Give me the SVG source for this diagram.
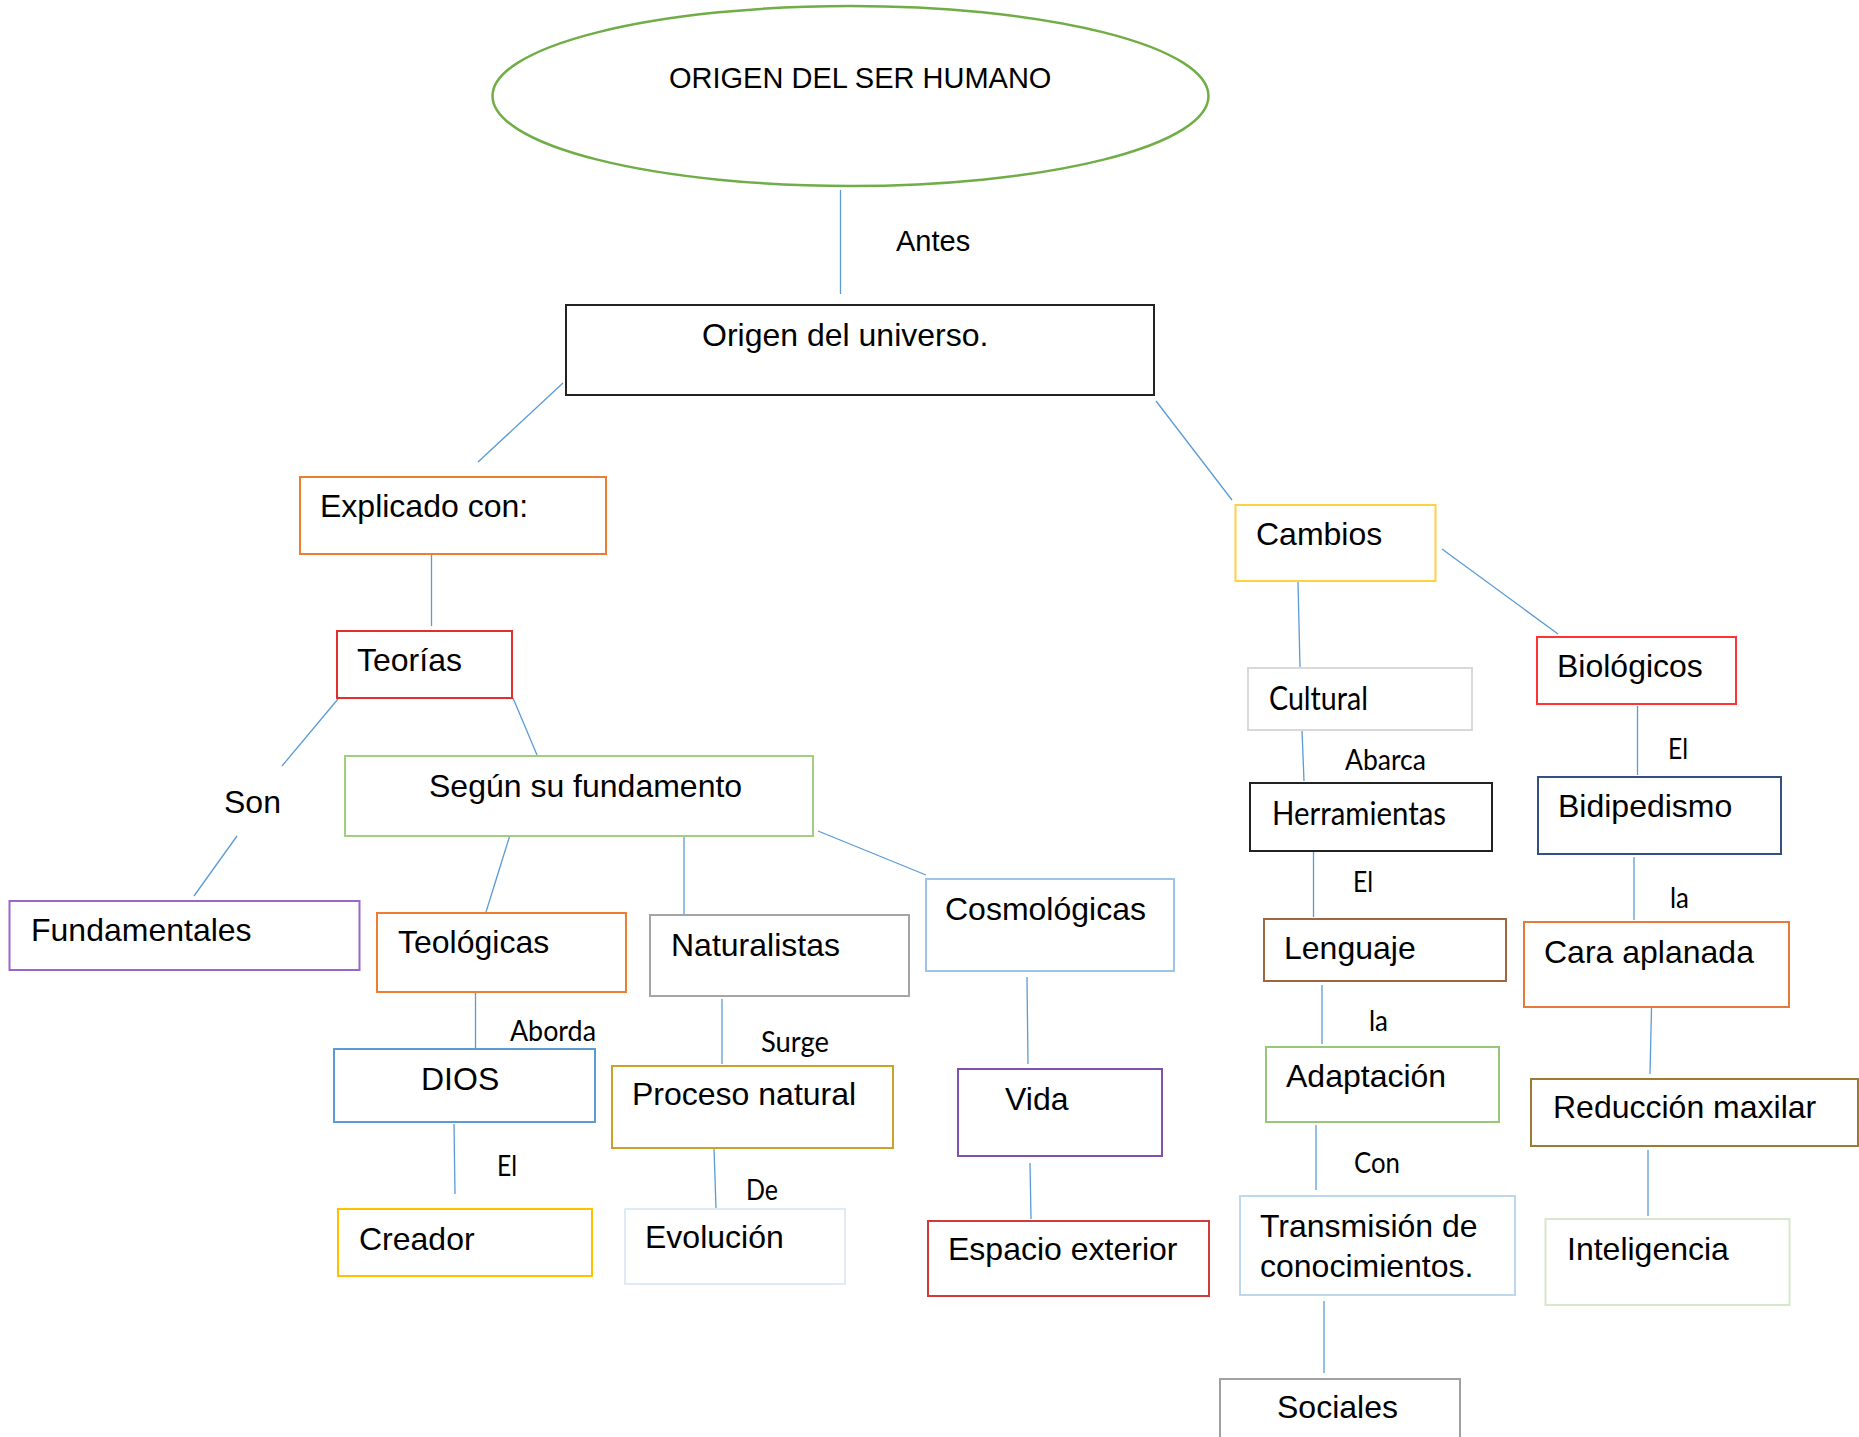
<svg xmlns="http://www.w3.org/2000/svg" width="1859" height="1437" viewBox="0 0 1859 1437">
<style>
.n{fill:#ffffff;stroke-width:2}
.t{font-family:"Liberation Sans",Arial,sans-serif;font-size:32px;fill:#000}
.c{font-family:Lato,"Open Sans",sans-serif;font-size:29px;fill:#000}
.cl{font-family:Lato,"Open Sans",sans-serif;font-size:32px;fill:#000}
#connectors line{stroke:#5B9BD5;stroke-width:1.3}
</style>
<rect width="1859" height="1437" fill="#ffffff"/>
<g id="connectors">
<line x1="840.5" y1="190" x2="840.5" y2="294"/>
<line x1="563" y1="383" x2="478" y2="462"/>
<line x1="1156" y1="401" x2="1232" y2="500"/>
<line x1="431.5" y1="554" x2="431.5" y2="626"/>
<line x1="338" y1="699" x2="282" y2="766"/>
<line x1="237" y1="836" x2="194" y2="896"/>
<line x1="513" y1="698" x2="537" y2="755"/>
<line x1="510" y1="835" x2="486" y2="912"/>
<line x1="684" y1="837" x2="684" y2="914"/>
<line x1="818" y1="831" x2="926" y2="875"/>
<line x1="475.5" y1="993" x2="475.5" y2="1048"/>
<line x1="454" y1="1124" x2="455" y2="1194"/>
<line x1="722" y1="999" x2="722" y2="1064"/>
<line x1="714" y1="1148" x2="716" y2="1208"/>
<line x1="1027" y1="977" x2="1028" y2="1064"/>
<line x1="1030" y1="1163" x2="1031" y2="1219"/>
<line x1="1298" y1="582" x2="1300" y2="667"/>
<line x1="1442" y1="549" x2="1558" y2="634"/>
<line x1="1302" y1="730" x2="1304" y2="781"/>
<line x1="1313.5" y1="848" x2="1313.5" y2="917"/>
<line x1="1322" y1="985" x2="1322" y2="1044"/>
<line x1="1316" y1="1125" x2="1316" y2="1190"/>
<line x1="1324" y1="1301" x2="1324" y2="1373"/>
<line x1="1637.5" y1="706" x2="1637.5" y2="775"/>
<line x1="1634" y1="857" x2="1634" y2="920"/>
<line x1="1651.5" y1="1008" x2="1650" y2="1074"/>
<line x1="1648" y1="1150" x2="1648" y2="1216"/>
</g>
<g id="labels">
<text class="t" x="896" y="251" style="font-size:29px">Antes</text>
<text class="t" x="224" y="813">Son</text>
<text class="c" x="510" y="1041" textLength="86" lengthAdjust="spacingAndGlyphs">Aborda</text>
<text class="c" x="497" y="1176" textLength="20" lengthAdjust="spacingAndGlyphs">El</text>
<text class="c" x="761" y="1052" textLength="68" lengthAdjust="spacingAndGlyphs">Surge</text>
<text class="c" x="746" y="1200" textLength="32" lengthAdjust="spacingAndGlyphs">De</text>
<text class="c" x="1345" y="770" textLength="81" lengthAdjust="spacingAndGlyphs">Abarca</text>
<text class="c" x="1353" y="892" textLength="20" lengthAdjust="spacingAndGlyphs">El</text>
<text class="c" x="1369" y="1031" textLength="19" lengthAdjust="spacingAndGlyphs">la</text>
<text class="c" x="1354" y="1173" textLength="46" lengthAdjust="spacingAndGlyphs">Con</text>
<text class="c" x="1668" y="759" textLength="20" lengthAdjust="spacingAndGlyphs">El</text>
<text class="c" x="1670" y="908" textLength="19" lengthAdjust="spacingAndGlyphs">la</text>
</g>
<g id="n-origen-ser"><ellipse cx="850.5" cy="96" rx="358" ry="90" fill="#fff" stroke="#70AD47" stroke-width="2.5"/><text class="t" x="669" y="88" style="font-size:29px">ORIGEN DEL SER HUMANO</text></g>
<g id="n-universo"><rect class="n" x="566" y="305" width="588" height="90" stroke="#222"/><text class="t" x="702" y="346">Origen del universo.</text></g>
<g id="n-explicado"><rect class="n" x="300" y="477" width="306" height="77" stroke="#ED7D31" stroke-width="3"/><text class="t" x="320" y="517">Explicado con:</text></g>
<g id="n-teorias"><rect class="n" x="337" y="631" width="175" height="67" stroke="#E42D2D"/><text class="t" x="357" y="671">Teorías</text></g>
<g id="n-fundamentales"><rect class="n" x="9.5" y="901" width="350" height="69" stroke="#9966CC"/><text class="t" x="31" y="941">Fundamentales</text></g>
<g id="n-segun"><rect class="n" x="345" y="756" width="468" height="80" stroke="#A0CF82"/><text class="t" x="429" y="797">Según su fundamento</text></g>
<g id="n-teologicas"><rect class="n" x="377" y="913" width="249" height="79" stroke="#ED7D31" stroke-width="3"/><text class="t" x="398" y="953">Teológicas</text></g>
<g id="n-naturalistas"><rect class="n" x="650" y="915" width="259" height="81" stroke="#A5A5A5" stroke-width="3"/><text class="t" x="671" y="956">Naturalistas</text></g>
<g id="n-cosmologicas"><rect class="n" x="926" y="879" width="248" height="92" stroke="#9DC3E6"/><text class="t" x="945" y="920">Cosmológicas</text></g>
<g id="n-dios"><rect class="n" x="334" y="1049" width="261" height="73" stroke="#5B9BD5" stroke-width="3"/><text class="t" x="421" y="1090">DIOS</text></g>
<g id="n-creador"><rect class="n" x="338" y="1209" width="254" height="67" stroke="#FFC000" stroke-width="3"/><text class="t" x="359" y="1250">Creador</text></g>
<g id="n-proceso"><rect class="n" x="612" y="1066" width="281" height="82" stroke="#C9A227"/><text class="t" x="632" y="1105">Proceso natural</text></g>
<g id="n-evolucion"><rect class="n" x="625" y="1209" width="220" height="75" stroke="#DEEBF7"/><text class="t" x="645" y="1248">Evolución</text></g>
<g id="n-vida"><rect class="n" x="958" y="1069" width="204" height="87" stroke="#8052B0"/><text class="t" x="1005" y="1110">Vida</text></g>
<g id="n-espacio"><rect class="n" x="928" y="1221" width="281" height="75" stroke="#D03A3A"/><text class="t" x="948" y="1260">Espacio exterior</text></g>
<g id="n-cambios"><rect class="n" x="1235.5" y="505" width="200" height="76" stroke="#FFD040"/><text class="t" x="1256" y="545">Cambios</text></g>
<g id="n-cultural"><rect class="n" x="1248" y="668" width="224" height="62" stroke="#D9D9D9"/><text class="cl" x="1269" y="710" textLength="99" lengthAdjust="spacingAndGlyphs">Cultural</text></g>
<g id="n-herramientas"><rect class="n" x="1250" y="783" width="242" height="68" stroke="#222"/><text class="cl" x="1272" y="825" textLength="174" lengthAdjust="spacingAndGlyphs">Herramientas</text></g>
<g id="n-lenguaje"><rect class="n" x="1264" y="919" width="242" height="62" stroke="#A0663F"/><text class="t" x="1284" y="959">Lenguaje</text></g>
<g id="n-adaptacion"><rect class="n" x="1266" y="1047" width="233" height="75" stroke="#99C77A"/><text class="t" x="1286" y="1087">Adaptación</text></g>
<g id="n-transmision"><rect class="n" x="1240" y="1196" width="275" height="99" stroke="#BDD7EE"/><text class="t" x="1260" y="1237">Transmisión de</text><text class="t" x="1260" y="1277">conocimientos.</text></g>
<g id="n-sociales"><rect class="n" x="1220" y="1379" width="240" height="70" stroke="#A0A0A0"/><text class="t" x="1277" y="1418">Sociales</text></g>
<g id="n-biologicos"><rect class="n" x="1537" y="637" width="199" height="67" stroke="#FF3333"/><text class="t" x="1557" y="677">Biológicos</text></g>
<g id="n-bidipedismo"><rect class="n" x="1538" y="777" width="243" height="77" stroke="#354F85"/><text class="t" x="1558" y="817">Bidipedismo</text></g>
<g id="n-cara"><rect class="n" x="1524" y="922" width="265" height="85" stroke="#E57A3A"/><text class="t" x="1544" y="963">Cara aplanada</text></g>
<g id="n-reduccion"><rect class="n" x="1531" y="1079" width="327" height="67" stroke="#9C7A30"/><text class="t" x="1553" y="1118">Reducción maxilar</text></g>
<g id="n-inteligencia"><rect class="n" x="1545.5" y="1219" width="244" height="86" stroke="#D5E8C8"/><text class="t" x="1567" y="1260">Inteligencia</text></g>
</svg>
